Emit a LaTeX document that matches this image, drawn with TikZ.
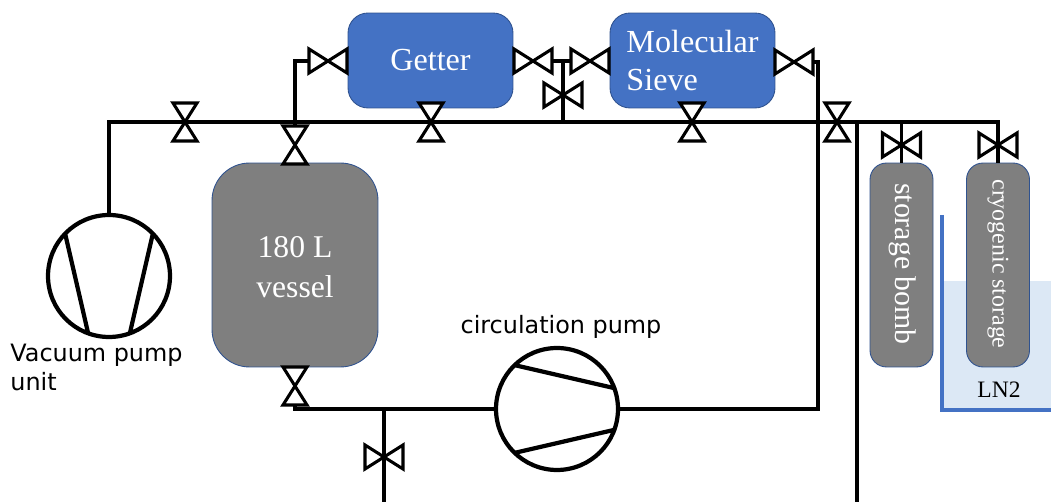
\documentclass[tikz,border=0pt]{standalone}
\usepackage{fontspec}
\usepackage{xcolor}
\setmainfont{Liberation Serif}
\newfontfamily\labelfont{DejaVu Sans}
\usetikzlibrary{calc,positioning}
\definecolor{unitblue}{HTML}{4472C4}
\definecolor{unitgray}{HTML}{7F7F7F}
\definecolor{unitedge}{HTML}{2F528F}
\definecolor{softln}{HTML}{DCE8F5}
\tikzset{
  pipe/.style={line width=1.75pt,black},
  valveline/.style={line width=1.75pt,black,fill=white,miter limit=4},
  valveh/.pic={\draw[valveline] (-19,-12)--(19,12)--(19,-12)--(-19,12)--cycle;},
  valvev/.pic={\draw[valveline] (-12,-19)--(12,19)--(-12,19)--(12,-19)--cycle;},
  bluebox/.style={draw=unitedge,line width=0.5pt,fill=unitblue,text=white,rounded corners=0.4cm,minimum width=3.3cm,minimum height=1.9cm,align=left,inner sep=0pt,font=\fontsize{18.3}{21.6}\selectfont},
  graybox/.style={draw=unitedge,line width=0.5pt,fill=unitgray,rounded corners=0.33cm,minimum width=1.26cm,minimum height=4.08cm,inner sep=0pt},
  graytext/.style={text=white,inner sep=0pt,align=center},
  pumpnode/.style={circle,draw=black,line width=2.4pt,fill=white,minimum size=2.44cm,inner sep=0pt,outer sep=0pt},
  pumpline/.style={line width=2.4pt,black},
  tag/.style={font=\labelfont\fontsize{13.6}{16.2}\selectfont,align=left,inner sep=0pt}
}

\begin{document}
\begin{tikzpicture}[x=0.02cm,y=-0.02cm]
  \useasboundingbox (0,0) rectangle (1051,502);
  % liquid nitrogen bath
  \fill[softln] (942,281) rectangle (1051,410);
  \draw[unitblue,line width=2.3pt] (942,215)--(942,410)--(1051,410);
  \node[inner sep=0pt,font=\fontsize{13.4}{16}\selectfont] (ln) at (999,390) {LN2};
  % vessels
  \node[bluebox] (getter) at (430.5,60.5) {Getter};
  \node[bluebox] (sieve) at (692.5,60.5) {Molecular\\Sieve};
  \node[graybox,rounded corners=0.75cm,minimum width=3.32cm] (vessel) at (295,265) {};
  \node[graytext,font=\fontsize{18}{22.8}\selectfont] (vesseltext) at (295,267) {180 L\\vessel};
  \node[graybox] (bomb) at (901.5,265) {};
  \node[graybox] (cryo) at (998,265) {};
  \node[graytext,rotate=-90,font=\fontsize{17}{18}\selectfont] (bombtext) at (902.5,264) {storage bomb};
  \node[graytext,rotate=-90,font=\fontsize{13.6}{16}\selectfont] (cryotext) at (998,264) {cryogenic storage};
  % pumps
  \node[pumpnode] (vacpump) at (109,276) {};
  \draw[pumpline] (vacpump.136)--(vacpump.250);
  \draw[pumpline] (vacpump.44)--(vacpump.290);
  \node[pumpnode] (circpump) at (557,409) {};
  \draw[pumpline] (circpump.134)--(circpump.20);
  \draw[pumpline] (circpump.226)--(circpump.340);
  \node[tag,anchor=north west] (vaclabel) at (10,344) {Vacuum pump\\unit};
  \node[tag,anchor=base] (circlabel) at (561,334) {circulation pump};
  % valve positions
  \foreach \name/\vx/\vy in {vTop/185/122,vGetterIn/328/61,vGetterOut/533/61,vGetterBy/431/122,vVessel/295/145,vVesselOut/295/386,vSieveIn/590/61,vSieveOut/794/62,vSieveBy/692/122,vBranch/563/95,vMain/837/122,vBomb/901.5/145,vCryo/998/145,vDrain/384/457}
    \coordinate (\name) at (\vx,\vy);
  \coordinate (mainR) at (vCryo |- vTop);
  \coordinate (riser) at (818,409);
  \coordinate (tee) at (384,409);
  \coordinate (teeEnd) at (384,502);
  \coordinate (feedTop) at (857,122);
  \coordinate (feedEnd) at (857,502);
  % pipes
  \draw[pipe] (vacpump.north) |- (mainR) -- (cryo.north);
  \draw[pipe] (bomb.north) -- (bomb |- mainR);
  \draw[pipe] (vVessel) |- (vGetterIn);
  \draw[pipe] (vGetterOut) -- (vSieveIn);
  \draw[pipe] (vBranch |- vSieveIn) -- (vBranch |- mainR);
  \draw[pipe] (vSieveOut) -| (riser) -- (circpump.east);
  \draw[pipe] (vVesselOut) |- (circpump.west);
  \draw[pipe] (tee) -- (teeEnd);
  \draw[pipe] (feedTop) -- (feedEnd);
  % valves
  \foreach \name in {vGetterIn,vGetterOut,vSieveIn,vSieveOut,vBranch,vBomb,vCryo,vDrain}
    \pic at (\name) {valveh};
  \foreach \name in {vTop,vGetterBy,vVessel,vVesselOut,vSieveBy,vMain}
    \pic at (\name) {valvev};
\end{tikzpicture}
\end{document}
